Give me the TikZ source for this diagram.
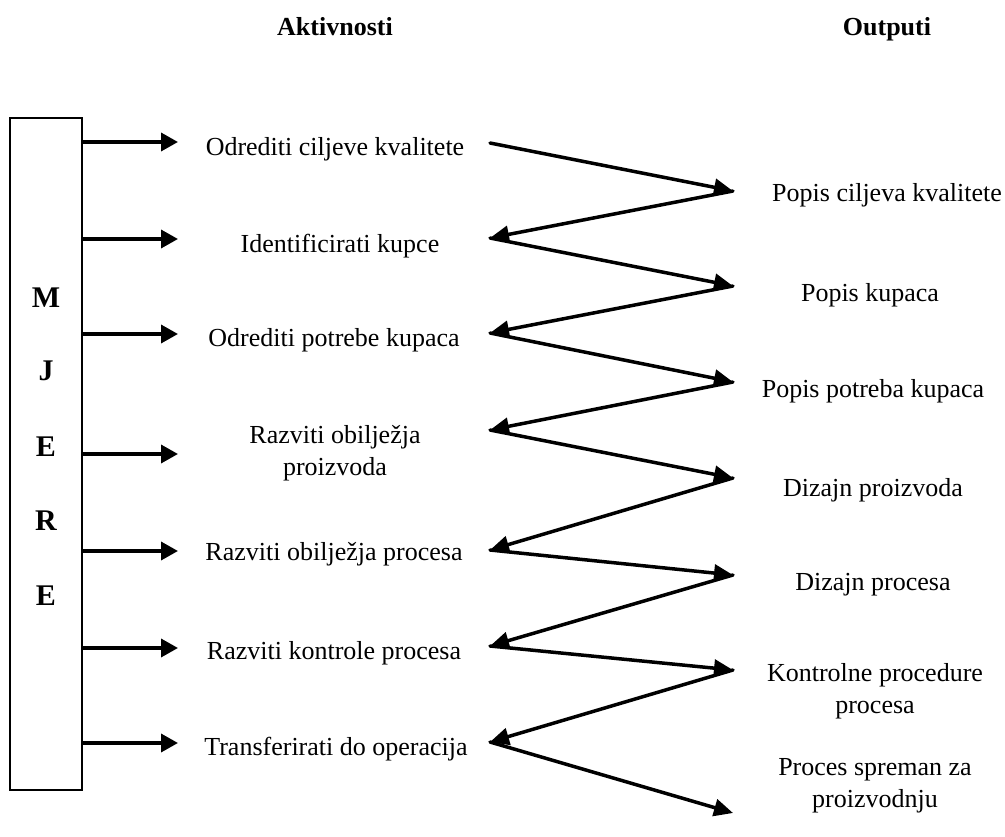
\documentclass[tikz,border=0pt]{standalone}
\usepackage{fontspec}
\setmainfont{Liberation Serif}
\usetikzlibrary{arrows.meta}
\begin{document}
\begin{tikzpicture}[x=1pt,y=-1pt,
  txt/.style={anchor=base,align=center,inner sep=0pt,font=\fontsize{26}{31.5}\selectfont},
  hdr/.style={anchor=base,inner sep=0pt,font=\fontsize{26}{31}\selectfont\bfseries},
  letter/.style={anchor=base,inner sep=0pt,font=\fontsize{30}{36}\selectfont\bfseries},
  arr/.style={line width=3.5pt,-{Triangle[length=17pt,width=18pt]}},
  zz/.style={line width=3.5pt,line cap=round,-{Triangle[length=19pt,width=17pt]}}]
\useasboundingbox (0,0) rectangle (1005,837);

% headers
\node[hdr] (h1) at (335,36) {Aktivnosti};
\node[hdr] (h2) at (887,36) {Outputi};

% box
\node[draw,line width=1.8pt,minimum width=72pt,minimum height=672pt,inner sep=0pt] (box) at (46,454) {};
\node[letter] (m1) at (46,308) {M};
\node[letter] (m2) at (46,381) {J};
\node[letter] (m3) at (46,456) {E};
\node[letter] (m4) at (46,530) {R};
\node[letter] (m5) at (46,605) {E};

% activities
\node[txt] (t1) at (335,156) {Odrediti ciljeve kvalitete};
\node[txt] (t2) at (340,253) {Identificirati kupce};
\node[txt] (t3) at (334,347) {Odrediti potrebe kupaca};
\node[txt] (t4) at (335,475) {Razviti obilježja\\proizvoda};
\node[txt] (t5) at (334,560) {Razviti obilježja procesa};
\node[txt] (t6) at (334,659) {Razviti kontrole procesa};
\node[txt] (t7) at (336,755) {Transferirati do operacija};

% outputs
\node[txt] (o1) at (887,202) {Popis ciljeva kvalitete};
\node[txt] (o2) at (870,302) {Popis kupaca};
\node[txt] (o3) at (873,397) {Popis potreba kupaca};
\node[txt] (o4) at (873,496) {Dizajn proizvoda};
\node[txt] (o5) at (873,590) {Dizajn procesa};
\node[txt] (o6) at (875,713) {Kontrolne procedure\\procesa};
\node[txt] (o7) at (875,807) {Proces spreman za\\proizvodnju};

% arrows from box
\foreach \i/\y in {1/142,2/239,3/334,4/454,5/551,6/648,7/743}{
  \coordinate (a\i) at (178,\y);
  \draw[arr] (box.east |- a\i) -- (a\i);
}

% zigzag vertices
\coordinate (L0) at (490,143);
\coordinate (L1) at (490,238);
\coordinate (L2) at (490,333);
\coordinate (L3) at (490,430);
\coordinate (L4) at (490,550);
\coordinate (L5) at (490,646);
\coordinate (L6) at (490,742);
\coordinate (R1) at (733,191);
\coordinate (R2) at (733,286);
\coordinate (R3) at (733,382);
\coordinate (R4) at (733,478);
\coordinate (R5) at (733,575);
\coordinate (R6) at (733,670);
\coordinate (R7) at (733,813);

\draw[zz] (L0) -- (R1);
\draw[zz] (R1) -- (L1);
\draw[zz] (L1) -- (R2);
\draw[zz] (R2) -- (L2);
\draw[zz] (L2) -- (R3);
\draw[zz] (R3) -- (L3);
\draw[zz] (L3) -- (R4);
\draw[zz] (R4) -- (L4);
\draw[zz] (L4) -- (R5);
\draw[zz] (R5) -- (L5);
\draw[zz] (L5) -- (R6);
\draw[zz] (R6) -- (L6);
\draw[zz] (L6) -- (R7);
\end{tikzpicture}
\end{document}
